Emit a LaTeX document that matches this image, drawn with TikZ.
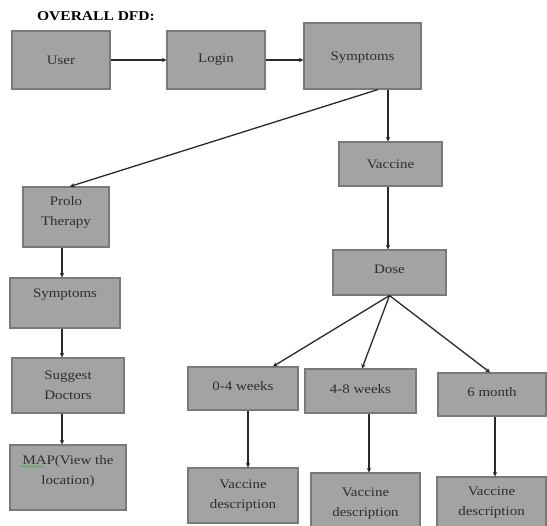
\documentclass[tikz,border=0pt]{standalone}
\usepackage{fontspec}
\setmainfont{Liberation Serif}
\newfontfamily\boxfont[FakeStretch=1.15]{Liberation Serif}
\usetikzlibrary{arrows.meta,decorations.pathmorphing}
\definecolor{boxfill}{HTML}{A3A3A3}
\definecolor{boxline}{HTML}{7A7A7A}
\definecolor{boxtext}{HTML}{2E2E2E}
\definecolor{arrowcol}{HTML}{2A2A2A}
\definecolor{spellgreen}{HTML}{4CB050}
\begin{document}
\begin{tikzpicture}[x=1pt,y=1pt,
  box/.style={draw=boxline,line width=1.1pt,fill=boxfill,inner sep=0pt},
  txt/.style={text=boxtext,font=\boxfont\fontsize{13}{20}\selectfont,align=center,inner sep=0pt},
  arr/.style={draw=arrowcol,line width=1.3pt,-{Stealth[length=4.5pt,width=4.5pt]}}]
\clip (0,0) rectangle (547,-526);
\fill[white] (0,0) rectangle (547,-526);

% heading
\node[font=\boxfont\bfseries\fontsize{13.5}{16}\selectfont,text=black,inner sep=0pt] (title) at (96,-16) {OVERALL DFD:};

% top row
\node[box,minimum width=98,minimum height=58,label={[txt]center:User}] (user) at (61,-60) {};
\node[box,minimum width=98,minimum height=58,label={[txt]center:Login}] (login) at (216,-60) {};
\node[box,minimum width=117,minimum height=66,label={[txt,yshift=-2pt]center:Symptoms}] (symp) at (362.5,-56) {};

% left branch
\node[box,minimum width=86,minimum height=60,label={[txt,yshift=5pt]center:Prolo\\Therapy}] (prolo) at (66,-217) {};
\node[box,minimum width=110,minimum height=50,label={[txt,yshift=8pt]center:Symptoms}] (symp2) at (65,-303) {};
\node[box,minimum width=112,minimum height=55,label={[txt]center:Suggest\\Doctors}] (sugg) at (68,-385.5) {};
\node[box,minimum width=116,minimum height=65,label={[txt,yshift=6pt]center:MAP(View the\\location)}] (map) at (68,-477.5) {};
\draw[spellgreen,line width=0.7pt,decorate,decoration={snake,amplitude=0.8pt,segment length=3pt}]
  ([xshift=-48pt,yshift=11pt]map.center) -- ([xshift=-23pt,yshift=11pt]map.center);

% right branch
\node[box,minimum width=103,minimum height=44,label={[txt]center:Vaccine}] (vacc) at (390.5,-164) {};
\node[box,minimum width=113,minimum height=45,label={[txt,yshift=3pt]center:Dose}] (dose) at (389.5,-272.5) {};
\node[box,minimum width=110,minimum height=43,label={[txt,yshift=2pt]center:0-4 weeks}] (w04) at (243,-388.5) {};
\node[box,minimum width=111,minimum height=44,label={[txt,yshift=2pt]center:4-8 weeks}] (w48) at (360.5,-391) {};
\node[box,minimum width=108,minimum height=43,label={[txt,yshift=2pt]center:6 month}] (m6) at (492,-394.5) {};
\node[box,minimum width=110,minimum height=55,label={[txt]center:Vaccine\\description}] (vd1) at (243,-495.5) {};
\node[box,minimum width=109,minimum height=62,label={[txt]center:Vaccine\\description}] (vd2) at (365.5,-504) {};
\node[box,minimum width=109,minimum height=63,label={[txt,yshift=6pt]center:Vaccine\\description}] (vd3) at (491.5,-508.5) {};

% connectors
\draw[arr] (user.east) -- (login.west);
\draw[arr] (login.east) -- (login.east -| symp.west);
\draw[arr] ([xshift=15.5pt]symp.south) -- ([xshift=4pt]prolo.north);
\draw[arr] ([xshift=25.5pt]symp.south) -- ([xshift=25.5pt]symp.south |- vacc.north);
\draw[arr] ([xshift=-2.5pt]vacc.south) -- ([xshift=-2.5pt]vacc.south |- dose.north);
\draw[arr] ([xshift=-4pt]prolo.south) -- ([xshift=-4pt]prolo.south |- symp2.north);
\draw[arr] ([xshift=-3pt]symp2.south) -- ([xshift=-3pt]symp2.south |- sugg.north);
\draw[arr] ([xshift=-6pt]sugg.south) -- ([xshift=-6pt]sugg.south |- map.north);
\draw[arr] (dose.south) -- ([xshift=30pt]w04.north);
\draw[arr] (dose.south) -- ([xshift=1.5pt]w48.north);
\draw[arr] (dose.south) -- ([xshift=-2pt]m6.north);
\draw[arr] ([xshift=5pt]w04.south) -- ([xshift=5pt]w04.south |- vd1.north);
\draw[arr] ([xshift=8.5pt]w48.south) -- ([xshift=8.5pt]w48.south |- vd2.north);
\draw[arr] ([xshift=3pt]m6.south) -- ([xshift=3pt]m6.south |- vd3.north);
\end{tikzpicture}
\end{document}
